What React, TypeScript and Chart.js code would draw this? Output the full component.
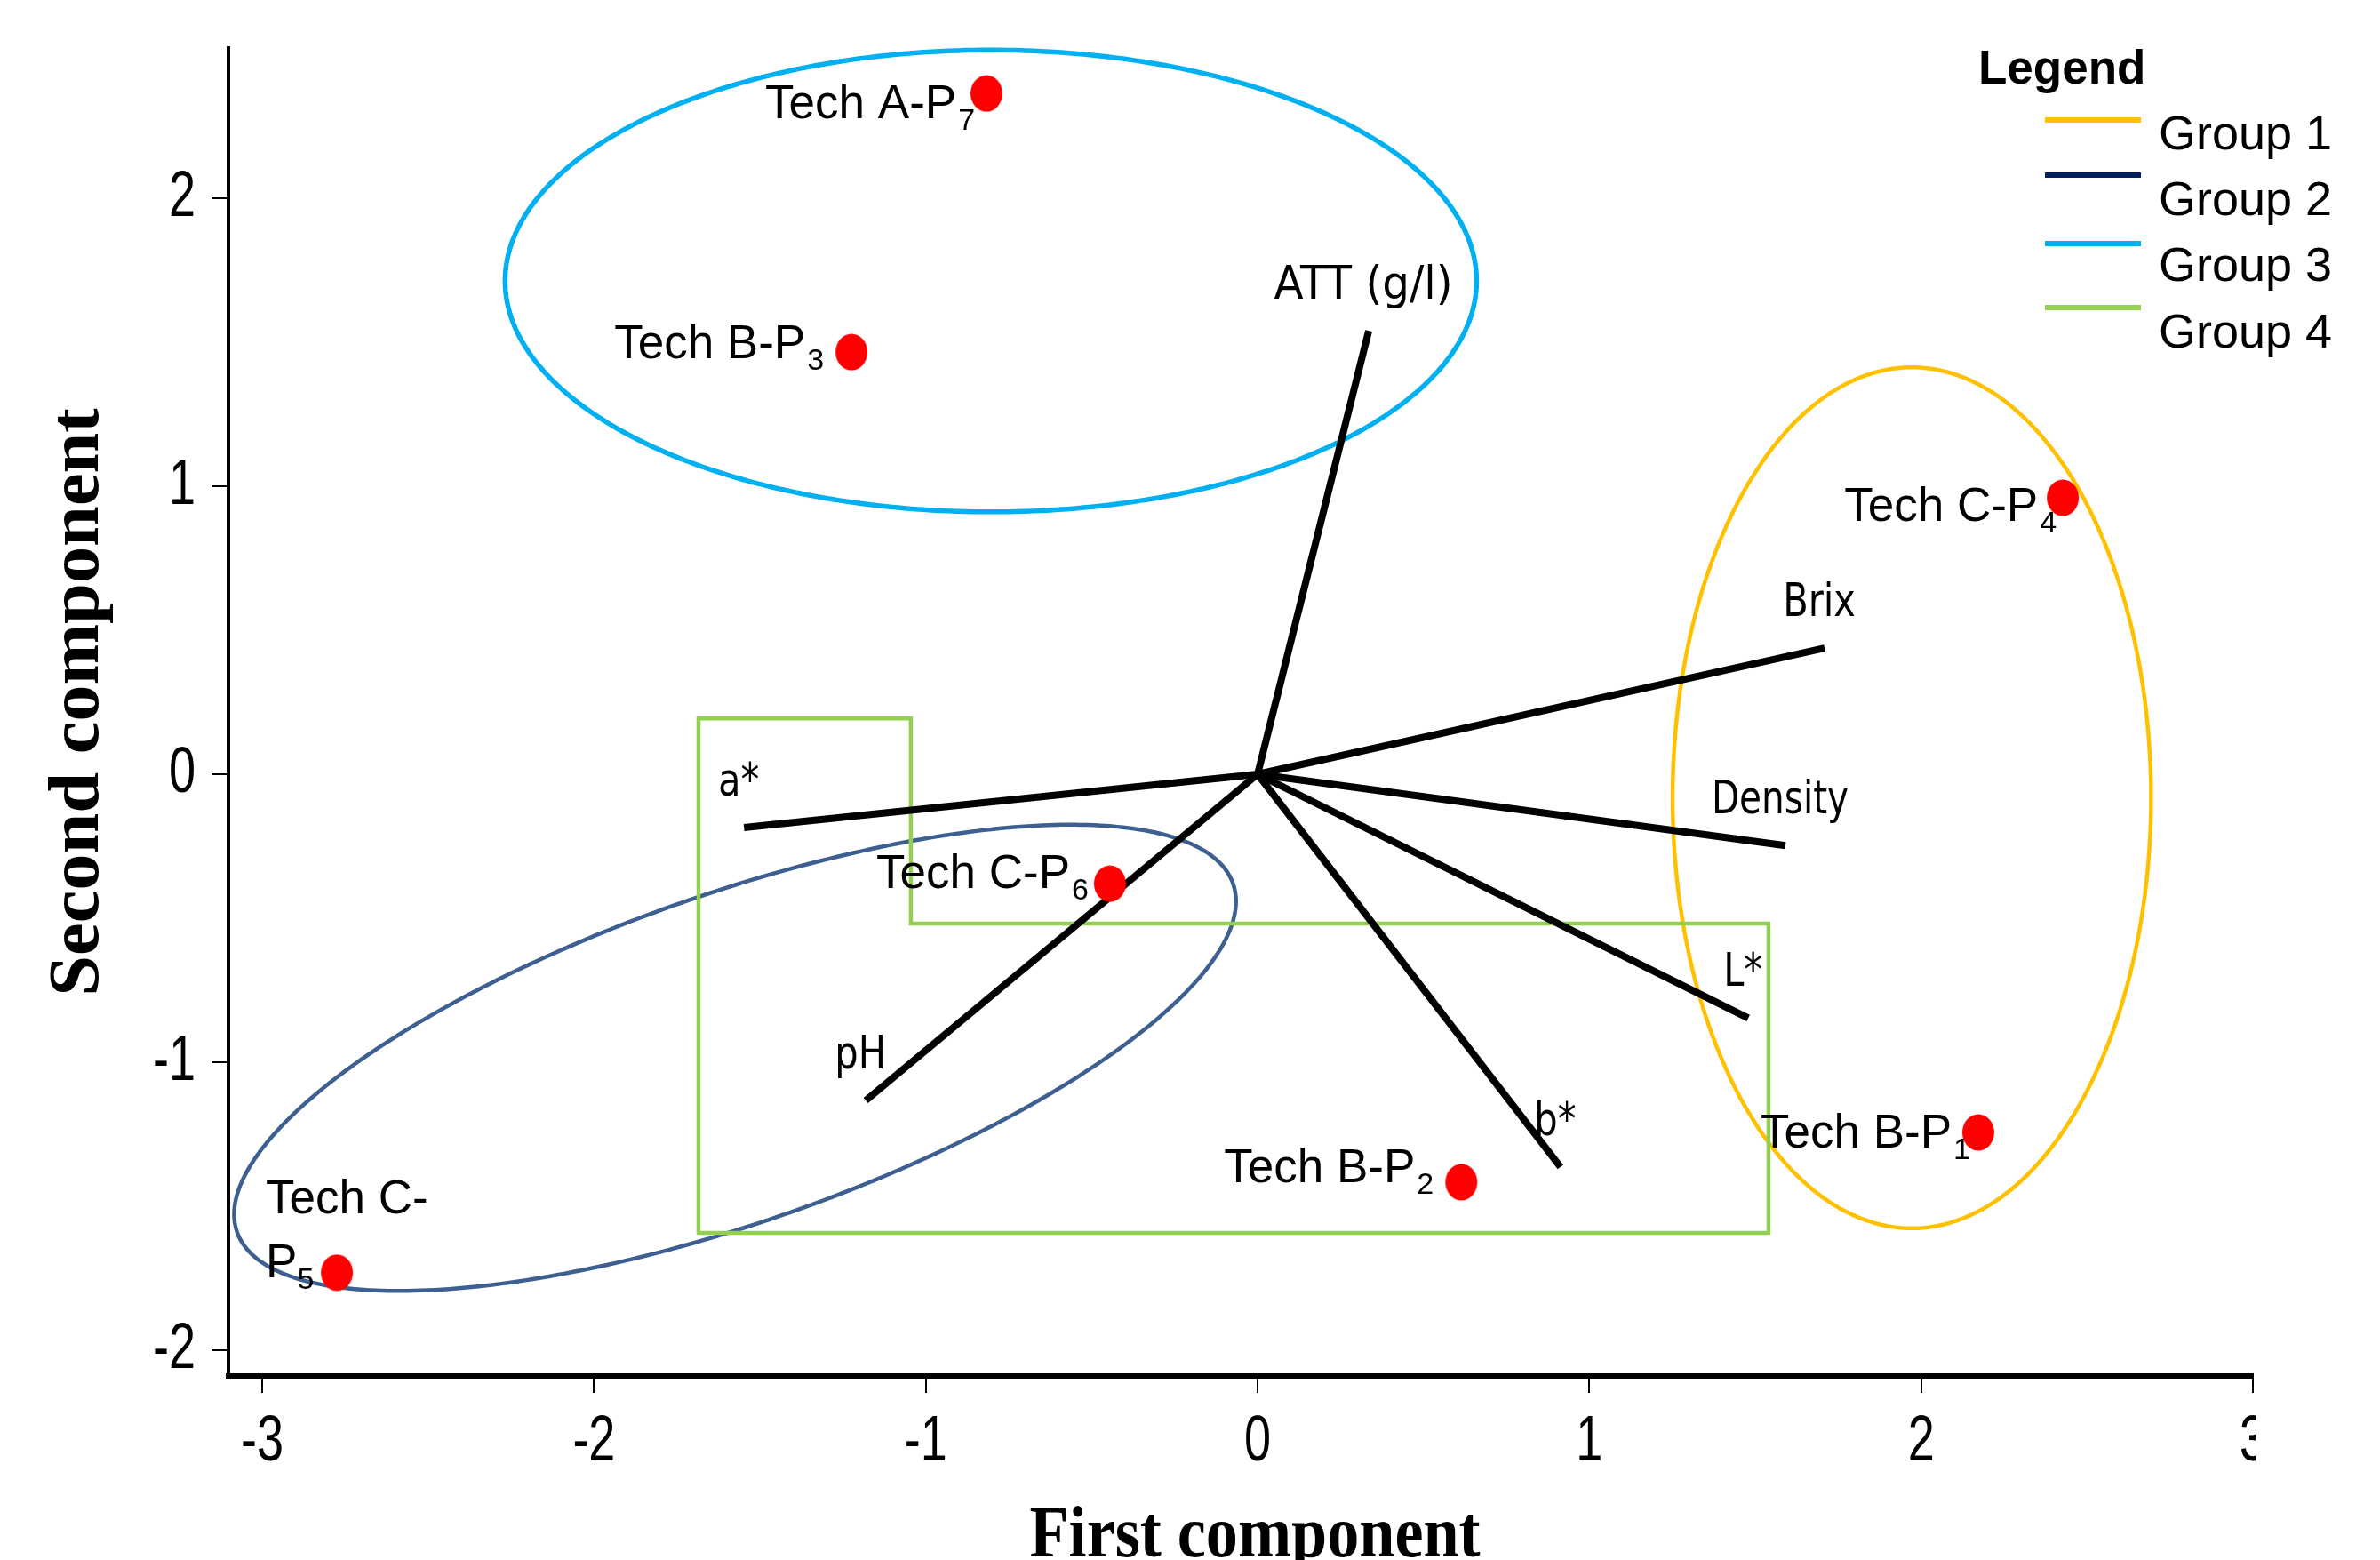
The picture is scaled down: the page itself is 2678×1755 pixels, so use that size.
import React, { useEffect, useRef } from "react";
import { Chart, registerables } from "chart.js";

Chart.register(...registerables);

const W = 2678;
const H = 1755;

// ---- data ----
const sampleNames = ["Tech A-P", "Tech B-P", "Tech C-P", "Tech C-P", "Tech B-P", "Tech B-P", "Tech C-P"];
const sampleSubs = ["7", "3", "4", "6", "1", "2", "5"];
const sampleX = [-0.817, -1.224, 2.427, -0.445, 2.172, 0.614, -2.775];
const sampleY = [2.364, 1.466, 0.96, -0.38, -1.244, -1.417, -1.731];

const variableNames = ["ATT (g/l)", "Brix", "Density", "L*", "b*", "pH", "a*"];
const variableX = [0.335, 1.709, 1.591, 1.479, 0.913, -1.181, -1.548];
const variableY = [1.54, 0.438, -0.248, -0.847, -1.364, -1.133, -0.185];

const xTicks = [-3, -2, -1, 0, 1, 2, 3];
const yTicks = [-2, -1, 0, 1, 2];

const groupNames = ["Group 1", "Group 2", "Group 3", "Group 4"];
const groupColors = ["#FFC000", "#002060", "#00B0F0", "#92D050"];

// group outlines in data units (centre + two conjugate half-axis vectors)
const group1Ellipse = { cx: 1.972, cy: -0.082, ux: 0.721, uy: 0, vx: 0, vy: 1.495 };
const group2Ellipse = { cx: -1.575, cy: -0.985, ux: 1.501, uy: 0.605, vx: 0.163, vy: -0.538 };
const group3Ellipse = { cx: -0.804, cy: 1.713, ux: 1.464, uy: 0, vx: 0, vy: 0.802 };
const group4BoxX = [-1.685, -1.045, -1.045, 1.54, 1.54, -1.685];
const group4BoxY = [0.194, 0.194, -0.519, -0.519, -1.593, -1.593];

// ---- layout / style ----
const sampleLabelLayout = [
  { dx: -13, dy: 28 },
  { dx: -31, dy: 7 },
  { dx: -7, dy: 26 },
  { dx: -24, dy: 5 },
  { dx: -9, dy: 17 },
  { dx: -31, dy: 0 },
  { dx: -80, dy: -67, split: true, dy2: 5 },
];
const variableLabelScale = [0.93, 0.8, 0.78, 0.8, 0.8, 0.8, 0.8];
const legendLineY = [135, 197, 274, 346];
const legendTextY = [168, 242, 316, 391];
const group2Stroke = "#3D6090";

const TICK_FONT = "72px 'Liberation Sans', Arial, sans-serif";
const TITLE_FONT = "bold 80px 'Liberation Serif', 'Times New Roman', serif";
const XTITLE_FONT = "bold 82px 'Liberation Serif', 'Times New Roman', serif";
const VAR_FONT = "52px 'DejaVu Sans', sans-serif";
const LABEL_FONT = "53px 'Liberation Sans', Arial, sans-serif";
const SUB_FONT = "34px 'Liberation Sans', Arial, sans-serif";

function makeDot(): HTMLCanvasElement {
  const c = document.createElement("canvas");
  c.width = 38;
  c.height = 42;
  const g = c.getContext("2d")!;
  g.fillStyle = "#FF0000";
  g.beginPath();
  g.ellipse(19, 21, 18, 20.5, 0, 0, Math.PI * 2);
  g.fill();
  return c;
}

function drawText(
  ctx: CanvasRenderingContext2D,
  text: string,
  x: number,
  y: number,
  font: string,
  align: CanvasTextAlign,
  sx = 1,
  rot = 0
) {
  ctx.save();
  ctx.translate(x, y);
  if (rot) ctx.rotate(rot);
  ctx.scale(sx, 1);
  ctx.font = font;
  ctx.textAlign = align;
  ctx.textBaseline = "alphabetic";
  ctx.fillStyle = "#000";
  ctx.fillText(text, 0, 0);
  ctx.restore();
}

function strokeEllipse(ctx: CanvasRenderingContext2D, xs: any, ys: any, e: any, color: string, lw: number) {
  const cx = xs.getPixelForValue(e.cx);
  const cy = ys.getPixelForValue(e.cy);
  const ux = xs.getPixelForValue(e.cx + e.ux) - cx;
  const uy = ys.getPixelForValue(e.cy + e.uy) - cy;
  const vx = xs.getPixelForValue(e.cx + e.vx) - cx;
  const vy = ys.getPixelForValue(e.cy + e.vy) - cy;
  ctx.save();
  ctx.strokeStyle = color;
  ctx.lineWidth = lw;
  ctx.beginPath();
  for (let k = 0; k <= 360; k++) {
    const t = (k * Math.PI) / 180;
    const px = cx + ux * Math.cos(t) + vx * Math.sin(t);
    const py = cy + uy * Math.cos(t) + vy * Math.sin(t);
    if (k === 0) ctx.moveTo(px, py);
    else ctx.lineTo(px, py);
  }
  ctx.closePath();
  ctx.stroke();
  ctx.restore();
}

const overlayPlugin = {
  id: "pcaOverlay",
  beforeDraw(chart: any) {
    const ctx = chart.ctx;
    ctx.save();
    ctx.fillStyle = "#fff";
    ctx.fillRect(0, 0, chart.width, chart.height);
    ctx.restore();
  },
  beforeDatasetsDraw(chart: any) {
    const ctx = chart.ctx as CanvasRenderingContext2D;
    const xs = chart.scales.x;
    const ys = chart.scales.y;
    strokeEllipse(ctx, xs, ys, group3Ellipse, groupColors[2], 5.5);
    strokeEllipse(ctx, xs, ys, group1Ellipse, groupColors[0], 4.5);
    strokeEllipse(ctx, xs, ys, group2Ellipse, group2Stroke, 4.5);
    ctx.save();
    ctx.strokeStyle = groupColors[3];
    ctx.lineWidth = 4.5;
    ctx.lineJoin = "miter";
    ctx.beginPath();
    group4BoxX.forEach((x, i) => {
      const px = xs.getPixelForValue(x);
      const py = ys.getPixelForValue(group4BoxY[i]);
      if (i === 0) ctx.moveTo(px, py);
      else ctx.lineTo(px, py);
    });
    ctx.closePath();
    ctx.stroke();
    ctx.restore();
  },
  afterDatasetsDraw(chart: any) {
    const ctx = chart.ctx as CanvasRenderingContext2D;
    const xs = chart.scales.x;
    const ys = chart.scales.y;
    // variable labels
    variableNames.forEach((name, i) => {
      const px = xs.getPixelForValue(variableX[i]);
      const py = ys.getPixelForValue(variableY[i]);
      drawText(ctx, name, px - 6, py - 36, VAR_FONT, "center", variableLabelScale[i]);
    });
    // sample labels
    sampleNames.forEach((name, i) => {
      const px = xs.getPixelForValue(sampleX[i]);
      const py = ys.getPixelForValue(sampleY[i]);
      const lay: any = sampleLabelLayout[i];
      ctx.save();
      if (lay.split) {
        const cut = name.indexOf("-") + 1;
        const l1 = name.slice(0, cut);
        const l2 = name.slice(cut);
        drawText(ctx, l1, px + lay.dx, py + lay.dy, LABEL_FONT, "left");
        drawText(ctx, l2, px + lay.dx, py + lay.dy2, LABEL_FONT, "left");
        ctx.font = LABEL_FONT;
        const w2 = ctx.measureText(l2).width;
        drawText(ctx, sampleSubs[i], px + lay.dx + w2, py + lay.dy2 + 13, SUB_FONT, "left");
      } else {
        ctx.font = SUB_FONT;
        const ws = ctx.measureText(sampleSubs[i]).width;
        const right = px + lay.dx;
        drawText(ctx, sampleSubs[i], right, py + lay.dy + 13, SUB_FONT, "right");
        drawText(ctx, name, right - ws - 2, py + lay.dy, LABEL_FONT, "right");
      }
      ctx.restore();
    });
  },
  afterDraw(chart: any) {
    const ctx = chart.ctx as CanvasRenderingContext2D;
    const xs = chart.scales.x;
    const ys = chart.scales.y;
    const area = chart.chartArea;
    // x tick labels (clipped at the right edge like the reference)
    ctx.save();
    ctx.beginPath();
    ctx.rect(0, 0, area.right + 3, chart.height);
    ctx.clip();
    xs.ticks.forEach((t: any) => {
      drawText(ctx, String(t.value), xs.getPixelForValue(t.value), area.bottom + 95, TICK_FONT, "center", 0.75);
    });
    ctx.restore();
    ys.ticks.forEach((t: any) => {
      drawText(ctx, String(t.value), area.left - 37, ys.getPixelForValue(t.value) + 20, TICK_FONT, "right", 0.75);
    });
    // axis titles
    drawText(ctx, "First component", xs.getPixelForValue(0) - 3, H - 4, XTITLE_FONT, "center", 0.88);
    drawText(ctx, "Second component", 110, 790, TITLE_FONT, "center", 1.03, -Math.PI / 2);
    // legend
    drawText(ctx, "Legend", 2226, 94, "bold 53px 'Liberation Sans', Arial, sans-serif", "left");
    groupNames.forEach((g, i) => {
      ctx.save();
      ctx.strokeStyle = groupColors[i];
      ctx.lineWidth = 6;
      ctx.beginPath();
      ctx.moveTo(2301, legendLineY[i]);
      ctx.lineTo(2409, legendLineY[i]);
      ctx.stroke();
      ctx.restore();
      drawText(ctx, g, 2429, legendTextY[i], "54px 'Liberation Sans', Arial, sans-serif", "left");
    });
  },
};

export default function App() {
  const ref = useRef<HTMLCanvasElement>(null);
  useEffect(() => {
    const canvas = ref.current;
    if (!canvas) return;
    const dot = makeDot();
    const chart = new Chart(canvas, {
      type: "scatter",
      data: {
        datasets: [
          {
            label: "Samples",
            data: sampleX.map((x, i) => ({ x, y: sampleY[i] })),
            backgroundColor: "#FF0000",
            borderColor: "#FF0000",
            pointStyle: dot,
            pointRadius: 20,
            showLine: false,
          } as any,
          ...variableNames.map(
            (n, i) =>
              ({
                label: n,
                data: [
                  { x: 0, y: 0 },
                  { x: variableX[i], y: variableY[i] },
                ],
                showLine: true,
                borderColor: "#000",
                borderWidth: 8,
                pointRadius: 0,
                borderCapStyle: "butt",
              } as any)
          ),
        ],
      },
      options: {
        responsive: false,
        animation: false,
        devicePixelRatio: 1,
        events: [],
        layout: { padding: { top: 54, right: 143, left: 0, bottom: 0 } },
        plugins: {
          legend: { display: false },
          tooltip: { enabled: false },
          title: { display: false },
        },
        scales: {
          x: {
            type: "linear",
            min: -3.102,
            max: 3,
            afterBuildTicks: (s: any) => {
              s.ticks = xTicks.map((v) => ({ value: v }));
            },
            afterFit: (s: any) => {
              s.height = 207;
            },
            ticks: { display: false },
            grid: { drawOnChartArea: false, drawTicks: true, tickLength: 19, color: "#000", lineWidth: 2 },
            border: { display: true, color: "#000", width: 6 },
          },
          y: {
            type: "linear",
            min: -2.09,
            max: 2.522,
            afterBuildTicks: (s: any) => {
              s.ticks = yTicks.map((v) => ({ value: v }));
            },
            afterFit: (s: any) => {
              s.width = 257;
            },
            ticks: { display: false },
            grid: { drawOnChartArea: false, drawTicks: true, tickLength: 19, color: "#000", lineWidth: 2 },
            border: { display: true, color: "#000", width: 4 },
          },
        },
      } as any,
      plugins: [overlayPlugin],
    });
    return () => chart.destroy();
  }, []);
  return (
    <div style={{ position: "absolute", left: 0, top: 0, width: W, height: H, background: "#fff" }}>
      <canvas ref={ref} width={W} height={H} style={{ display: "block", width: W, height: H }} />
    </div>
  );
}
